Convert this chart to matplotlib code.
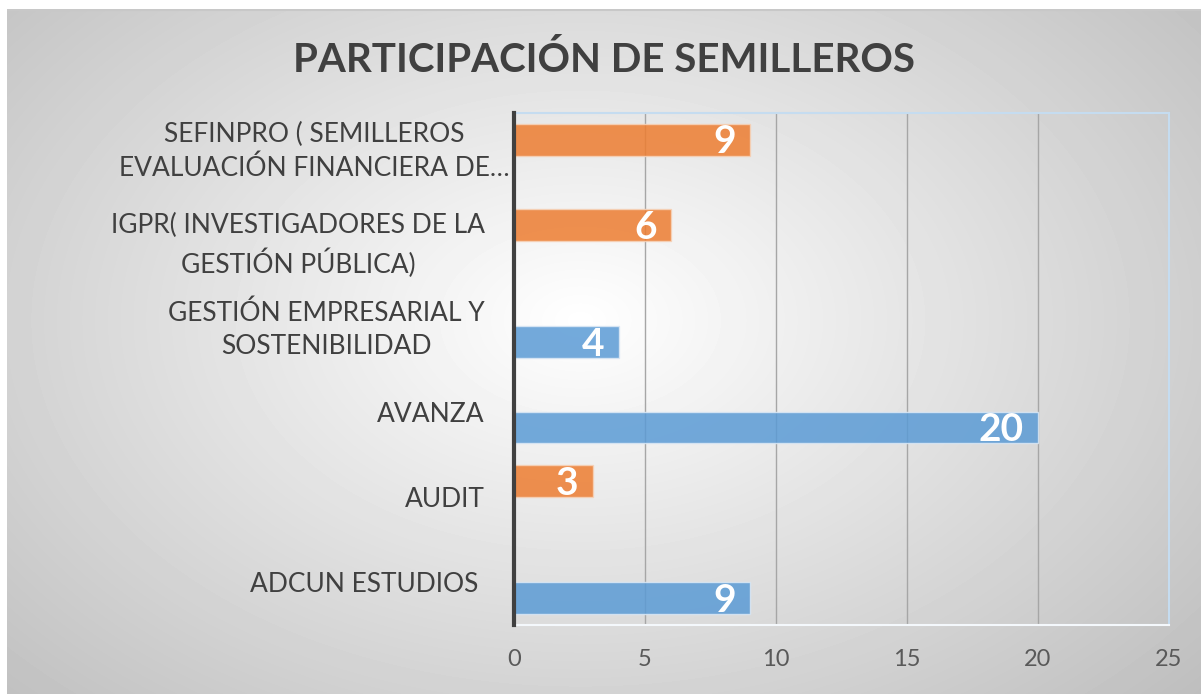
import matplotlib
matplotlib.use("Agg")
import matplotlib.pyplot as plt
import matplotlib.transforms as mtransforms
import numpy as np

# categories listed bottom -> top, as drawn
CATEGORIES = [
    "ADCUN ESTUDIOS ",
    "AUDIT",
    "AVANZA",
    "GESTIÓN EMPRESARIAL Y\nSOSTENIBILIDAD",
    "IGPR( INVESTIGADORES DE LA\nGESTIÓN PÚBLICA)",
    "SEFINPRO ( SEMILLEROS\nEVALUACIÓN FINANCIERA DE…",
]
SERIES_BLUE = [9, 0, 20, 4, 0, 0]
SERIES_ORANGE = [0, 3, 0, 0, 6, 9]
XTICKS = [0, 5, 10, 15, 20, 25]

TITLE = "PARTICIPACIÓN DE SEMILLEROS"
BLUE = "#5B9BD5"
ORANGE = "#ED7D31"
DARK = "#404040"
FONT = "Lato"

W, H = 1203, 694
fig = plt.figure(figsize=(W / 100, H / 100), dpi=100)
fig.patch.set_facecolor("white")

# radial grey background like the Excel chart area
bg = fig.add_axes([7 / W, 0, (1201 - 7) / W, (H - 9) / H])
bg.set_axis_off()
yy, xx = np.mgrid[9:H, 7:1201]
r = np.sqrt((xx - 580.0) ** 2 + ((yy - 320.0) * 1.5) ** 2)
val = np.clip(255 - 0.078 * r, 0, 255) / 255.0
bg.imshow(val, cmap="gray", vmin=0, vmax=1, aspect="auto",
          interpolation="bilinear")
bg.plot([0, val.shape[1] - 1], [0, 0], color="#c8c8c8", lw=1.5)
bg.set_xlim(-0.5, val.shape[1] - 0.5)
bg.set_ylim(val.shape[0] - 0.5, -0.5)

fig.text(604 / W, 1 - 60 / H, TITLE, ha="center", va="center",
         fontsize=29, fontweight="bold", color=DARK, family=FONT)

ax = fig.add_axes([514 / W, 1 - 625 / H, (1169 - 514) / W, (625 - 113) / H])
ax.patch.set_alpha(0)

y = np.arange(len(CATEGORIES))
h = 0.37
bars_b = ax.barh(y - h / 2, SERIES_BLUE, height=h, color=BLUE, alpha=0.85,
                 edgecolor="#dbe8f5", linewidth=1.0, zorder=3)
bars_o = ax.barh(y + h / 2, SERIES_ORANGE, height=h, color=ORANGE, alpha=0.85,
                 edgecolor="#f6d2b8", linewidth=1.0, zorder=3)

for bars, vals in ((bars_b, SERIES_BLUE), (bars_o, SERIES_ORANGE)):
    for b, v in zip(bars, vals):
        if v == 0:
            continue
        ax.annotate(str(v), xy=(v, b.get_y() + b.get_height() / 2),
                    xytext=(-14, -2), textcoords="offset pixels",
                    ha="right", va="center", fontsize=28, fontweight="bold",
                    color="white", family=FONT, zorder=4)

ax.set_xlim(0, 25)
ax.set_ylim(-0.5, len(CATEGORIES) - 0.5)
ax.set_xticks(XTICKS)
ax.set_xticklabels([str(t) for t in XTICKS], fontsize=17, color="#595959",
                   family=FONT)
ax.set_yticks(y)
ax.set_yticklabels(CATEGORIES, fontsize=19, color=DARK, family=FONT,
                   multialignment="center", linespacing=1.4)
ax.tick_params(axis="both", length=0)
ax.tick_params(axis="x", pad=17)
ax.tick_params(axis="y", pad=21)

# nudge two-line labels up a bit; the ellipsis line of the top one overflows right
lbls = ax.get_yticklabels()
for lbl in lbls[3:5]:
    lbl.set_transform(lbl.get_transform()
                      + mtransforms.ScaledTranslation(0, 3 / 100, fig.dpi_scale_trans))
lbls[-1].set_transform(lbls[-1].get_transform()
                       + mtransforms.ScaledTranslation(25 / 100, 11 / 100, fig.dpi_scale_trans))

ax.grid(axis="x", color="#a6a6a6", linewidth=1.0, zorder=1)
ax.set_axisbelow(True)
ax.spines["left"].set_color(DARK)
ax.spines["left"].set_linewidth(3.0)
ax.spines["left"].set_zorder(5)
for s in ("top", "right"):
    ax.spines[s].set_color("#c5dcf0")
    ax.spines[s].set_linewidth(1.5)
ax.spines["bottom"].set_color("#f4f8fc")
ax.spines["bottom"].set_linewidth(1.5)

fig.savefig("out.png", dpi=100)
